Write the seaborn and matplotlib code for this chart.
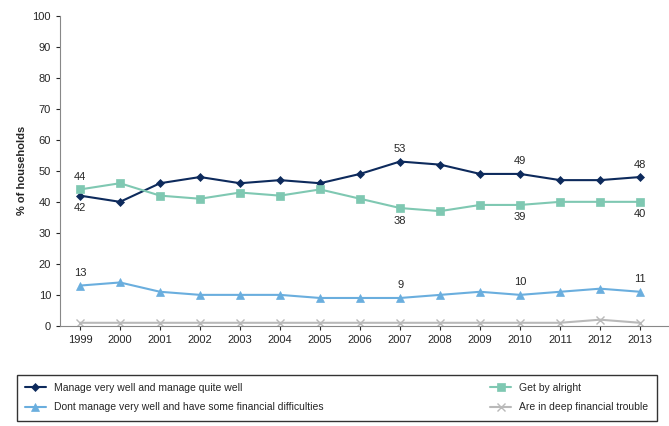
import matplotlib
matplotlib.use("Agg")
import matplotlib.pyplot as plt
import seaborn as sns
import pandas as pd

years = list(range(1999, 2014))
manage_well = [42, 40, 46, 48, 46, 47, 46, 49, 53, 52, 49, 49, 47, 47, 48]
get_by = [44, 46, 42, 41, 43, 42, 44, 41, 38, 37, 39, 39, 40, 40, 40]
dont_manage = [13, 14, 11, 10, 10, 10, 9, 9, 9, 10, 11, 10, 11, 12, 11]
deep_trouble = [1, 1, 1, 1, 1, 1, 1, 1, 1, 1, 1, 1, 1, 2, 1]
names = ["Manage very well and manage quite well", "Get by alright",
         "Dont manage very well and have some financial difficulties",
         "Are in deep financial trouble"]
colors = ["#0d2a5c", "#7fc8b2", "#6aaede", "#b9b9b9"]
markers = ["D", "s", "^", "x"]
sizes = [4, 6, 6, 6]
label_years = [1999, 2007, 2010, 2013]
offsets = [[-1, 1, 1, 1], [1, -1, -1, -1], [1, 1, 1, 1], None]

sns.set_style("white")
plt.rcParams['font.family'] = ['Liberation Sans', 'DejaVu Sans']
fig = plt.figure(figsize=(6.69, 4.26), dpi=100)
ax = fig.add_axes([0.0897, 0.235, 0.909, 0.728])

series = [manage_well, get_by, dont_manage, deep_trouble]
for i, (vals, name) in enumerate(zip(series, names)):
    df = pd.DataFrame({"year": years, "v": vals})
    sns.lineplot(data=df, x="year", y="v", ax=ax, color=colors[i], marker=markers[i],
                 markersize=sizes[i], linewidth=1.5, label=name,
                 markeredgecolor=colors[i], markeredgewidth=1 if markers[i] == "x" else 0.5)
    if offsets[i]:
        for j, y in enumerate(label_years):
            v = vals[years.index(y)]
            ax.annotate(str(v), (y, v), xytext=(0, 9 * offsets[i][j]), textcoords="offset points",
                        ha="center", va="center", fontsize=8)

ax.set_xlim(1998.5, 2013.7)
ax.set_ylim(0, 100)
ax.set_yticks(range(0, 101, 10))
ax.set_xticks(years)
ax.tick_params(labelsize=8, length=3, direction="out", left=True, bottom=True)
ax.set_xlabel("")
ax.set_ylabel("% of households", fontsize=8, fontweight="bold")
for s in ["top", "right"]:
    ax.spines[s].set_visible(False)
for s in ["left", "bottom"]:
    ax.spines[s].set_color("#888888")
h, l = ax.get_legend_handles_labels()
order = [0, 2, 1, 3]
ax.legend([h[k] for k in order], [l[k] for k in order], loc="upper left",
          bbox_to_anchor=(-0.08, -0.30, 1.07, 0.16), mode="expand",
          ncol=2, fontsize=7.5, frameon=True, edgecolor="black", fancybox=False,
          borderpad=0.8, labelspacing=0.9)
fig.savefig("out.png", dpi=100)
